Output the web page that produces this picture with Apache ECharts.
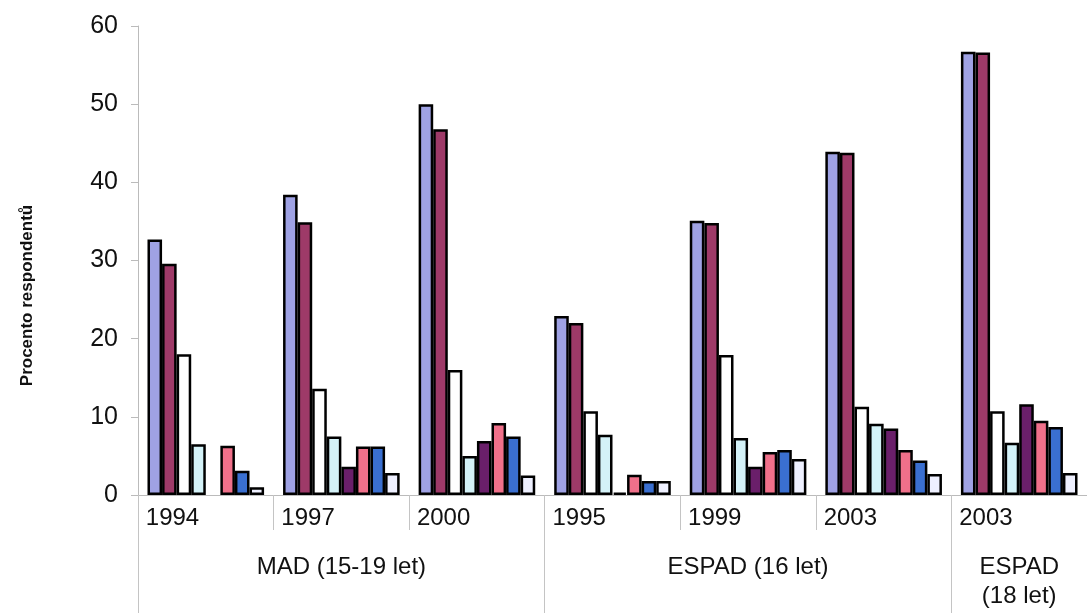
<!DOCTYPE html>
<html>
<head>
<meta charset="utf-8">
<script src="https://cdn.jsdelivr.net/npm/echarts@6/dist/echarts.min.js"></script>
<style>html,body{margin:0;padding:0;background:#fff}#c{width:1087px;height:613px}</style>
</head>
<body>
<div id="c"></div>
<script>
const years = ['1994', '1997', '2000', '1995', '1999', '2003', '2003'];
const groupLabels = ['', 'MAD (15-19 let)', '', '', 'ESPAD (16 let)', '', 'ESPAD\n(18 let)'];
const groupBoundaries = [0, 3, 6];
const yTicks = { min: 0, max: 60, interval: 10 };
const yTitle = 'Procento respondentů';

const s1 = [32.7, 38.4, 50.0, 22.9, 35.1, 43.9, 56.7];
const s2 = [29.6, 34.9, 46.8, 22.0, 34.8, 43.8, 56.6];
const s3 = [18.0, 13.6, 16.0, 10.7, 17.9, 11.3, 10.7];
const s4 = [6.5, 7.5, 5.0, 7.7, 7.3, 9.1, 6.7];
const s5 = [null, 3.6, 6.9, 0.3, 3.6, 8.5, 11.6];
const s6 = [6.3, 6.2, 9.2, 2.6, 5.5, 5.75, 9.5];
const s7 = [3.1, 6.2, 7.5, 1.8, 5.75, 4.4, 8.7];
const s8 = [1.0, 2.8, 2.5, 1.8, 4.6, 2.7, 2.8];

const seriesData = [s1, s2, s3, s4, s5, s6, s7, s8];
const colors = ['#9fa2e4', '#9e3a68', '#ffffff', '#d4f2f8', '#6a1f6a', '#f0708a', '#3a6fd0', '#eef0ff'];

const chart = echarts.init(document.getElementById('c'));
const font = 'Liberation Sans, Arial, sans-serif';

chart.setOption({
  animation: false,
  backgroundColor: '#ffffff',
  grid: { left: 138, right: -6, top: 26, bottom: 118 },
  xAxis: [
    {
      type: 'category',
      data: years,
      axisLine: { show: true, lineStyle: { color: '#bbbbbb', width: 1 } },
      axisTick: { show: true, length: 35, interval: 0, lineStyle: { color: '#c4c4c4' } },
      axisLabel: {
        interval: 0,
        margin: 11,
        color: '#111',
        fontFamily: font,
        fontSize: 24,
        formatter: v => '{a|' + v + '}',
        rich: { a: { width: 120, align: 'left', fontSize: 24, fontFamily: font, color: '#111' } }
      }
    },
    {
      type: 'category',
      data: groupLabels,
      position: 'bottom',
      offset: 35,
      axisLine: { show: false },
      axisTick: {
        show: true, length: 85,
        interval: (i) => groupBoundaries.includes(i),
        lineStyle: { color: '#c4c4c4' }
      },
      axisLabel: {
        interval: 0,
        margin: 23,
        color: '#111',
        fontFamily: font,
        fontSize: 24,
        lineHeight: 29,
        verticalAlign: 'top'
      }
    }
  ],
  yAxis: {
    type: 'value',
    min: yTicks.min,
    max: yTicks.max,
    interval: yTicks.interval,
    name: yTitle,
    nameLocation: 'middle',
    nameRotate: 90,
    nameGap: 102,
    nameTextStyle: { fontSize: 17, fontWeight: 'bold', fontFamily: font, color: '#111', padding: [0, 70, 0, 0] },
    axisLine: { show: true, lineStyle: { color: '#bbbbbb' } },
    axisTick: { show: true, length: 7, lineStyle: { color: '#bbbbbb' } },
    splitLine: { show: false },
    axisLabel: { margin: 20, color: '#111', fontSize: 25, fontFamily: font }
  },
  series: seriesData.map((d, i) => ({
    type: 'bar',
    data: d,
    xAxisIndex: 0,
    barGap: '0%',
    barCategoryGap: '14%',
    itemStyle: { color: colors[i], borderColor: '#000', borderWidth: 2.5 }
  }))
});
</script>
</body>
</html>
